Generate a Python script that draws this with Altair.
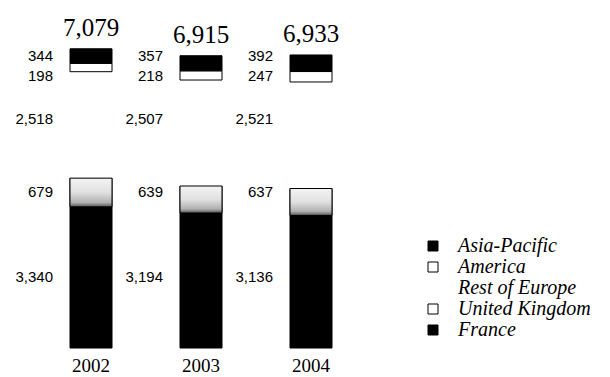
import altair as alt
import pandas as pd

# Revenue by region (stacked bottom to top: France, UK, Rest of Europe, America, Asia-Pacific)
years = ["2002", "2003", "2004"]
france = [3340, 3194, 3136]
united_kingdom = [679, 639, 637]
rest_of_europe = [2518, 2507, 2521]
america = [198, 218, 247]
asia_pacific = [344, 357, 392]
totals = [7079, 6915, 6933]

legend_order = ["Asia-Pacific", "America", "Rest of Europe", "United Kingdom", "France"]
stack_order = ["France", "United Kingdom", "Rest of Europe", "America", "Asia-Pacific"]
series = {
    "France": france,
    "United Kingdom": united_kingdom,
    "Rest of Europe": rest_of_europe,
    "America": america,
    "Asia-Pacific": asia_pacific,
}

rows = []
for i, yr in enumerate(years):
    base = 0
    for r in stack_order:
        v = series[r][i]
        rows.append({"year": yr, "region": r, "value": v, "y0": base, "y1": base + v})
        base += v
df = pd.DataFrame(rows)

# value labels sit on shared rows, taken from the first year's segment middles
first = df[df["year"] == years[0]].set_index("region")
df["label_y"] = df["region"].map((first["y0"] + first["y1"]) / 2)

tot_df = pd.DataFrame({"year": years, "total": totals})

fills = ["#000000", "#ffffff", "#ffffff", "#ffffff", "#000000"]
strokes = ["#000000", "#000000", "transparent", "#000000", "#000000"]

serif = "Liberation Serif, Times New Roman, serif"

x_enc = alt.X(
    "year:N",
    sort=years,
    scale=alt.Scale(paddingInner=0, paddingOuter=0),
    axis=alt.Axis(
        title=None,
        labelAngle=0,
        labelFont=serif,
        labelFontSize=19,
        labelColor="#000000",
        labelPadding=8,
        ticks=False,
        domain=False,
        grid=False,
    ),
)
y_scale = alt.Scale(domain=[0, 7500])

legend_spec = dict(
    title=None,
    orient="none",
    legendX=387,
    legendY=205,
    padding=0,
    symbolType="square",
    symbolSize=100,
    symbolStrokeWidth=1,
    labelFont=serif,
    labelFontStyle="italic",
    labelFontSize=20,
    labelColor="#000000",
    labelOffset=15,
    rowPadding=1,
)

base = alt.Chart(df)

bars = base.mark_bar(size=42, strokeWidth=1).encode(
    x=x_enc,
    y=alt.Y("y0:Q", scale=y_scale, axis=None),
    y2="y1:Q",
    fill=alt.Fill(
        "region:N",
        scale=alt.Scale(domain=legend_order, range=fills),
        legend=alt.Legend(**legend_spec),
    ),
    stroke=alt.Stroke(
        "region:N",
        scale=alt.Scale(domain=legend_order, range=strokes),
        legend=alt.Legend(**legend_spec),
    ),
)

# stippled UK segment, lighter at the top and darkening toward France
uk = base.transform_filter(alt.datum.region == "United Kingdom").mark_bar(
    size=42,
    stroke="#000000",
    strokeWidth=1,
    fill=alt.LinearGradient(
        gradient="linear",
        x1=0, y1=0, x2=0, y2=1,
        stops=[
            alt.GradientStop(color="#f4f4f4", offset=0),
            alt.GradientStop(color="#e0e0e0", offset=0.5),
            alt.GradientStop(color="#b0b0b0", offset=0.85),
            alt.GradientStop(color="#555555", offset=1),
        ],
    ),
).encode(x=x_enc, y=alt.Y("y0:Q", scale=y_scale, axis=None), y2="y1:Q")

nudge = {"America": 8, "Rest of Europe": -6}
labels = []
for r in stack_order:
    labels.append(
        base.transform_filter(alt.datum.region == r)
        .mark_text(
            align="right",
            baseline="middle",
            dx=-38,
            dy=nudge.get(r, 0),
            font="Liberation Sans",
            fontSize=15,
            color="#000000",
        )
        .encode(
            x=x_enc,
            y=alt.Y("label_y:Q", scale=y_scale, axis=None),
            text=alt.Text("value:Q", format=","),
        )
    )

total_text = alt.Chart(tot_df).mark_text(
    align="center",
    baseline="alphabetic",
    dy=-13,
    font=serif,
    fontSize=25,
    color="#000000",
).encode(
    x=x_enc,
    y=alt.Y("total:Q", scale=y_scale, axis=None),
    text=alt.Text("total:Q", format=","),
)

chart = (
    alt.layer(bars, uk, *labels, total_text)
    .properties(
        width=330,
        height=317,
        autosize="none",
        padding={"left": 36, "top": 31, "right": 244, "bottom": 29},
    )
    .configure_view(stroke=None)
)

chart.save("out.html", embed_options={"renderer": "svg", "actions": False})
